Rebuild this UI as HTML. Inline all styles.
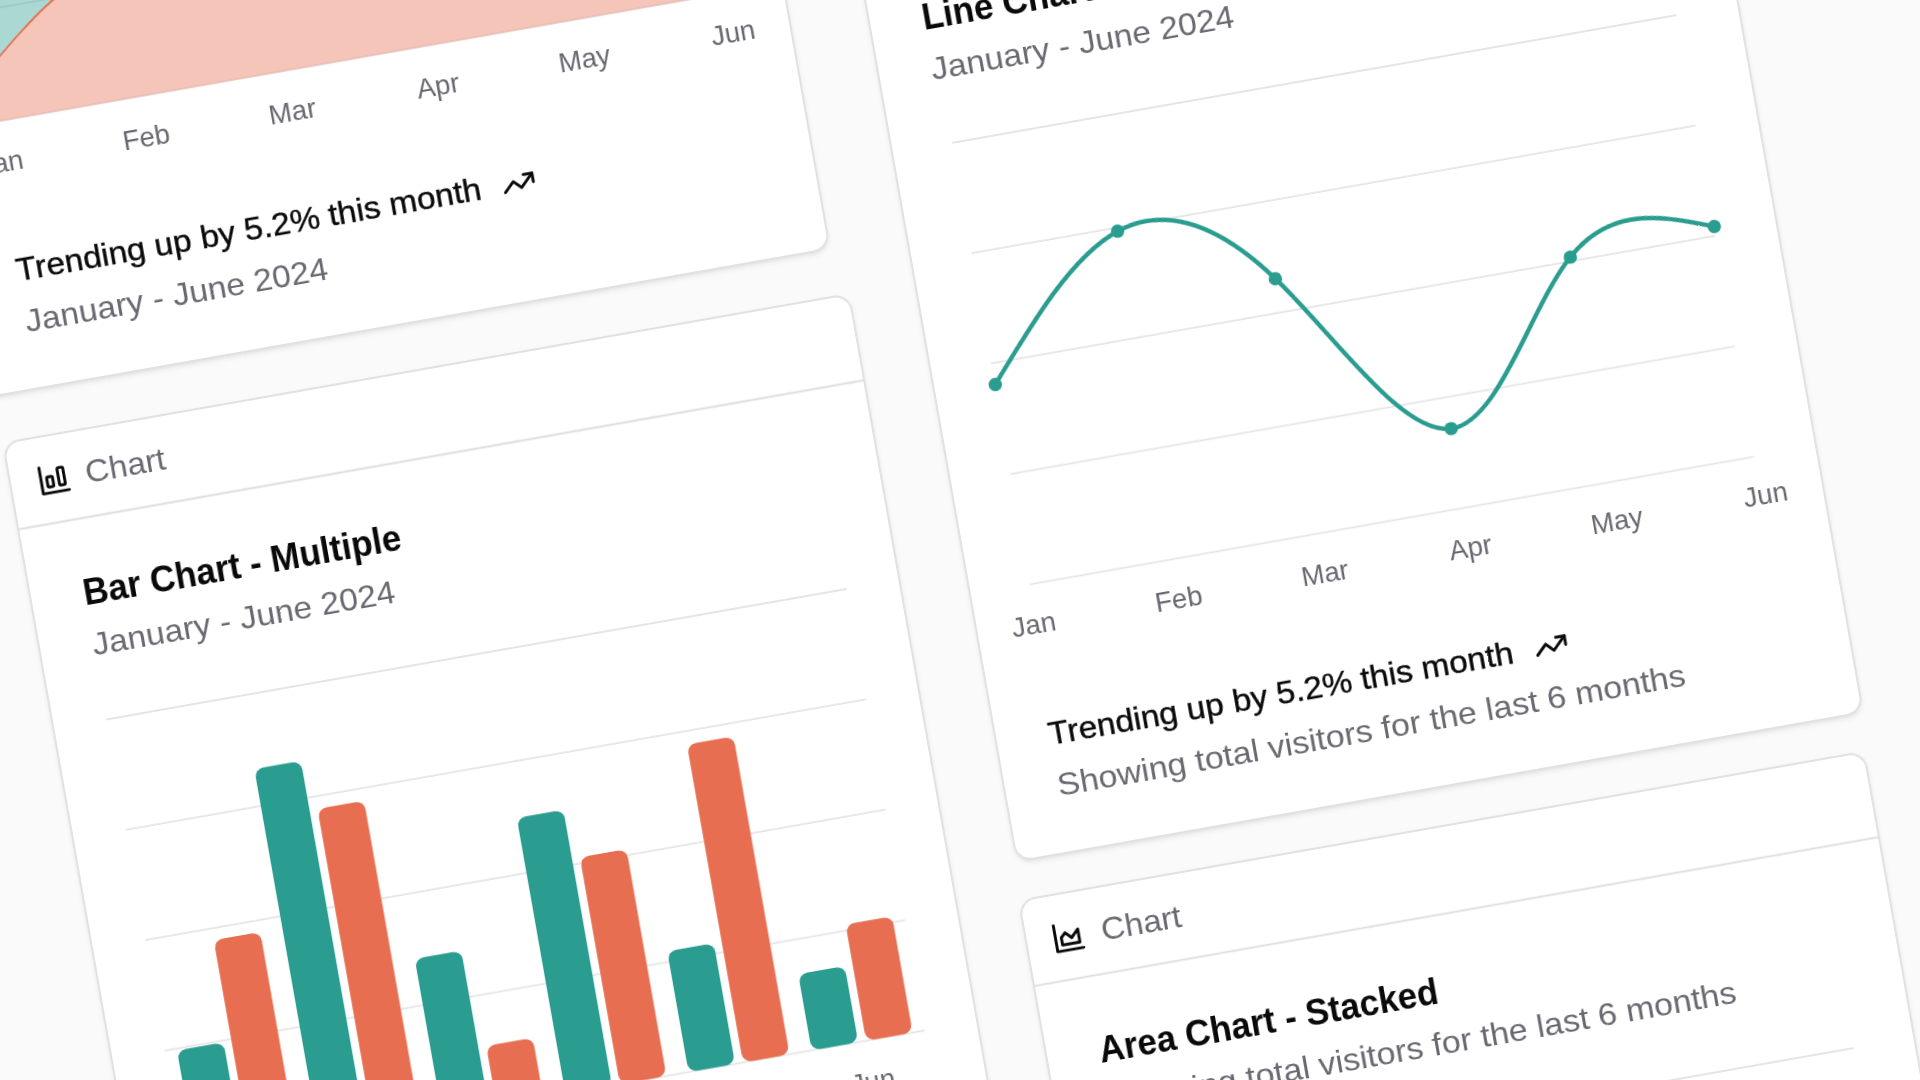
<!DOCTYPE html>
<html lang="en"><head><meta charset="utf-8"><title>Charts</title>
<style>
html,body{margin:0;padding:0}
body{width:1920px;height:1080px;overflow:hidden;background:#fafafa;font-family:"Liberation Sans",sans-serif;position:relative}
#stage{position:absolute;left:0;top:0;width:0;height:0;transform-origin:0 0;transform:rotate(-10deg);will-change:transform}
.card{position:absolute;box-sizing:border-box;width:861.0px;background:#fff;border:2.2px solid #e1e1e4;border-radius:17px;overflow:hidden;
box-shadow:0 2.2px 5.5px rgba(0,0,0,.06),0 2.2px 4px -2.2px rgba(0,0,0,.08)}
.card svg.g{position:absolute;left:-2.2px;top:-2.2px;overflow:visible}
.t{position:absolute;white-space:nowrap;line-height:1;transform-origin:0 50%;font-family:"Liberation Sans",sans-serif}
.lb{width:120px;text-align:center;transform-origin:50% 50%}
</style></head>
<body>
<div id="stage">
<div class="card" style="left:-86.2px;top:-620.2px;width:861px;height:1010.6px"><svg class="g" width="861.0" height="1010.6" viewBox="0 0 861.0 1010.6"><rect x="0" y="87.05" width="861.0" height="1.9" fill="#dededf"/><g transform="translate(1.4,0)"><g transform="translate(26.5,27.3) scale(1.4667)" fill="none" stroke="#0a0a0a" stroke-width="2" stroke-linecap="round" stroke-linejoin="round"><path d="M3 3v18h18"/><path d="M7 12v5h12V8l-5 5-4-4Z"/></g><line x1="61.1" x2="796.6" y1="291" y2="291" stroke="#e5e5e8" stroke-width="1.8"/><line x1="61.1" x2="796.6" y1="403.1" y2="403.1" stroke="#e5e5e8" stroke-width="1.8"/><line x1="61.1" x2="796.6" y1="515.2" y2="515.2" stroke="#e5e5e8" stroke-width="1.8"/><line x1="61.1" x2="796.6" y1="627.3" y2="627.3" stroke="#e5e5e8" stroke-width="1.8"/><line x1="61.1" x2="796.6" y1="739.4" y2="739.4" stroke="#e5e5e8" stroke-width="1.8"/><path d="M61.1,686.6C110.13,645.42,159.17,604.24,208.2,607.4C257.23,610.56,306.27,658.05,355.3,660.2C404.33,662.35,453.37,619.15,502.4,614C551.43,608.85,600.47,641.76,649.5,653.6C698.53,665.44,747.57,656.22,796.6,647L796.6,739.4L61.1,739.4Z" fill="#e76e50" fill-opacity="0.4"/><path d="M61.1,563.84C110.13,488.37,159.17,412.91,208.2,406.1C257.23,399.29,306.27,461.14,355.3,503.78C404.33,546.42,453.37,569.86,502.4,565.82C551.43,561.78,600.47,530.25,649.5,515.66C698.53,501.07,747.57,503.41,796.6,505.76L796.6,647C747.57,656.22,698.53,665.44,649.5,653.6C600.47,641.76,551.43,608.85,502.4,614C453.37,619.15,404.33,662.35,355.3,660.2C306.27,658.05,257.23,610.56,208.2,607.4C159.17,604.24,110.13,645.42,61.1,686.6Z" fill="#2a9d90" fill-opacity="0.4"/><path d="M61.1,686.6C110.13,645.42,159.17,604.24,208.2,607.4C257.23,610.56,306.27,658.05,355.3,660.2C404.33,662.35,453.37,619.15,502.4,614C551.43,608.85,600.47,641.76,649.5,653.6C698.53,665.44,747.57,656.22,796.6,647" fill="none" stroke="#e76e50" stroke-width="1.8"/><path d="M61.1,563.84C110.13,488.37,159.17,412.91,208.2,406.1C257.23,399.29,306.27,461.14,355.3,503.78C404.33,546.42,453.37,569.86,502.4,565.82C551.43,561.78,600.47,530.25,649.5,515.66C698.53,501.07,747.57,503.41,796.6,505.76" fill="none" stroke="#2a9d90" stroke-width="1.8"/><g transform="translate(546.05,872.55) scale(1.4667)" fill="none" stroke="#0a0a0a" stroke-width="2" stroke-linecap="round" stroke-linejoin="round"><polyline points="22 7 13.5 15.5 8.5 10.5 2 17"/><polyline points="16 7 22 7 22 13"/></g></g></svg><div class="t" style="left:75.4px;top:26.23px;font-size:32.2px;color:#696972;font-weight:400;letter-spacing:0px;transform:scaleX(1.03);">Chart</div><div class="t" style="left:52.2px;top:142.62px;font-size:36.8px;color:#0a0a0a;font-weight:700;letter-spacing:0px;transform:scaleX(0.95);">Area Chart - Stacked</div><div class="t" style="left:52.5px;top:196.83px;font-size:32.2px;color:#696972;font-weight:400;letter-spacing:0px;transform:scaleX(1.057);">Showing total visitors for the last 6 months</div><div class="t lb" style="left:-2.9px;top:765.64px;font-size:27.6px;color:#696972">Jan</div><div class="t lb" style="left:144.4px;top:765.37px;font-size:27.6px;color:#696972">Feb</div><div class="t lb" style="left:292.8px;top:765.1px;font-size:27.6px;color:#696972">Mar</div><div class="t lb" style="left:440.6px;top:764.83px;font-size:27.6px;color:#696972">Apr</div><div class="t lb" style="left:589.5px;top:764.56px;font-size:27.6px;color:#696972">May</div><div class="t lb" style="left:740.4px;top:764.29px;font-size:27.6px;color:#696972">Jun</div><div class="t" style="left:52.7px;top:871.43px;font-size:32.2px;color:#0a0a0a;font-weight:400;letter-spacing:0px;transform:scaleX(1.041);-webkit-text-stroke:0.4px #0a0a0a;">Trending up by 5.2% this month</div><div class="t" style="left:52.7px;top:923.53px;font-size:32.2px;color:#696972;font-weight:400;letter-spacing:0px;transform:scaleX(1.046);">January - June 2024</div></div>
<div class="card" style="left:-75.1px;top:436.2px;width:860.7px;height:1010.6px"><svg class="g" width="860.7" height="1010.6" viewBox="0 0 860.7 1010.6"><rect x="0" y="87.55" width="860.7" height="1.9" fill="#dededf"/><g transform="translate(1.1,0)"><g transform="translate(26.5,27.3) scale(1.4667)" fill="none" stroke="#0a0a0a" stroke-width="2" stroke-linecap="round" stroke-linejoin="round"><path d="M3 3v18h18"/><rect width="4" height="7" x="7" y="10" rx="1"/><rect width="4" height="12" x="15" y="5" rx="1"/></g><line x1="53.6" x2="805.5" y1="291" y2="291" stroke="#e5e5e8" stroke-width="1.8"/><line x1="53.6" x2="805.5" y1="403.1" y2="403.1" stroke="#e5e5e8" stroke-width="1.8"/><line x1="53.6" x2="805.5" y1="515.2" y2="515.2" stroke="#e5e5e8" stroke-width="1.8"/><line x1="53.6" x2="805.5" y1="627.3" y2="627.3" stroke="#e5e5e8" stroke-width="1.8"/><line x1="53.6" x2="805.5" y1="739.4" y2="739.4" stroke="#e5e5e8" stroke-width="1.8"/><rect x="65.8" y="629.2" width="47.3" height="110.2" rx="8.8" fill="#2a9d90"/><rect x="121.1" y="526.9" width="47.3" height="212.5" rx="8.8" fill="#e76e50"/><rect x="190.8" y="365.6" width="47.3" height="373.8" rx="8.8" fill="#2a9d90"/><rect x="246.1" y="415.7" width="47.3" height="323.7" rx="8.8" fill="#e76e50"/><rect x="315.8" y="580.3" width="47.3" height="159.1" rx="8.8" fill="#2a9d90"/><rect x="371.1" y="678.5" width="47.3" height="60.9" rx="8.8" fill="#e76e50"/><rect x="440.8" y="459.3" width="47.3" height="280.1" rx="8.8" fill="#2a9d90"/><rect x="496.1" y="508.9" width="47.3" height="230.5" rx="8.8" fill="#e76e50"/><rect x="565.8" y="616.7" width="47.3" height="122.7" rx="8.8" fill="#2a9d90"/><rect x="621.1" y="416.5" width="47.3" height="322.9" rx="8.8" fill="#e76e50"/><rect x="690.8" y="661.9" width="47.3" height="77.5" rx="8.8" fill="#2a9d90"/><rect x="746.1" y="621.3" width="47.3" height="118.1" rx="8.8" fill="#e76e50"/><g transform="translate(546.05,872.45) scale(1.4667)" fill="none" stroke="#0a0a0a" stroke-width="2" stroke-linecap="round" stroke-linejoin="round"><polyline points="22 7 13.5 15.5 8.5 10.5 2 17"/><polyline points="16 7 22 7 22 13"/></g></g></svg><div class="t" style="left:75.1px;top:26.23px;font-size:32.2px;color:#696972;font-weight:400;letter-spacing:0px;transform:scaleX(1.03);">Chart</div><div class="t" style="left:51.9px;top:142.62px;font-size:36.8px;color:#0a0a0a;font-weight:700;letter-spacing:0px;transform:scaleX(0.95);">Bar Chart - Multiple</div><div class="t" style="left:52.2px;top:196.83px;font-size:32.2px;color:#696972;font-weight:400;letter-spacing:0px;transform:scaleX(1.046);">January - June 2024</div><div class="t lb" style="left:58.6px;top:764.74px;font-size:27.6px;color:#696972">Jan</div><div class="t lb" style="left:183.9px;top:764.74px;font-size:27.6px;color:#696972">Feb</div><div class="t lb" style="left:309.2px;top:764.74px;font-size:27.6px;color:#696972">Mar</div><div class="t lb" style="left:434.5px;top:764.74px;font-size:27.6px;color:#696972">Apr</div><div class="t lb" style="left:559.8px;top:764.74px;font-size:27.6px;color:#696972">May</div><div class="t lb" style="left:685.1px;top:764.74px;font-size:27.6px;color:#696972">Jun</div><div class="t" style="left:52.4px;top:871.33px;font-size:32.2px;color:#0a0a0a;font-weight:400;letter-spacing:0px;transform:scaleX(1.041);-webkit-text-stroke:0.4px #0a0a0a;">Trending up by 5.2% this month</div><div class="t" style="left:52.4px;top:923.43px;font-size:32.2px;color:#696972;font-weight:400;letter-spacing:0px;transform:scaleX(1.057);">Showing total visitors for the last 6 months</div></div>
<div class="card" style="left:851.1px;top:15.4px;width:861px;height:1010.6px"><svg class="g" width="861.0" height="1010.6" viewBox="0 0 861.0 1010.6"><rect x="0" y="87.05" width="861.0" height="1.9" fill="#dededf"/><g transform="translate(0.7,0)"><g transform="translate(26.5,27.3) scale(1.4667)" fill="none" stroke="#0a0a0a" stroke-width="2" stroke-linecap="round" stroke-linejoin="round"><path d="M3 3v18h18"/><path d="m19 9-5 5-4-4-3 3"/></g><line x1="61.1" x2="796.6" y1="291" y2="291" stroke="#e5e5e8" stroke-width="1.8"/><line x1="61.1" x2="796.6" y1="403.1" y2="403.1" stroke="#e5e5e8" stroke-width="1.8"/><line x1="61.1" x2="796.6" y1="515.2" y2="515.2" stroke="#e5e5e8" stroke-width="1.8"/><line x1="61.1" x2="796.6" y1="627.3" y2="627.3" stroke="#e5e5e8" stroke-width="1.8"/><line x1="61.1" x2="796.6" y1="739.4" y2="739.4" stroke="#e5e5e8" stroke-width="1.8"/><path d="M61.7,536.5C110.73,479.87,159.77,423.23,208.8,406.8C257.83,390.37,306.87,414.14,355.9,480.9C404.93,547.66,453.97,657.4,503,659.1C552.03,660.8,601.07,554.46,650.1,510.9C699.13,467.34,748.17,486.57,797.2,505.8" fill="none" stroke="#2a9d90" stroke-width="4.4" stroke-linecap="round"/><circle cx="61.7" cy="536.5" r="6.7" fill="#2a9d90"/><circle cx="208.8" cy="406.8" r="6.7" fill="#2a9d90"/><circle cx="355.9" cy="480.9" r="6.7" fill="#2a9d90"/><circle cx="503" cy="659.1" r="6.7" fill="#2a9d90"/><circle cx="650.1" cy="510.9" r="6.7" fill="#2a9d90"/><circle cx="797.2" cy="505.8" r="6.7" fill="#2a9d90"/><g transform="translate(546.05,872.45) scale(1.4667)" fill="none" stroke="#0a0a0a" stroke-width="2" stroke-linecap="round" stroke-linejoin="round"><polyline points="22 7 13.5 15.5 8.5 10.5 2 17"/><polyline points="16 7 22 7 22 13"/></g></g></svg><div class="t" style="left:74.7px;top:26.23px;font-size:32.2px;color:#696972;font-weight:400;letter-spacing:0px;transform:scaleX(1.03);">Chart</div><div class="t" style="left:51.5px;top:142.62px;font-size:36.8px;color:#0a0a0a;font-weight:700;letter-spacing:0px;transform:scaleX(0.95);">Line Chart - Dots</div><div class="t" style="left:51.8px;top:196.83px;font-size:32.2px;color:#696972;font-weight:400;letter-spacing:0px;transform:scaleX(1.046);">January - June 2024</div><div class="t lb" style="left:-3.6px;top:764.04px;font-size:27.6px;color:#696972">Jan</div><div class="t lb" style="left:143.7px;top:763.77px;font-size:27.6px;color:#696972">Feb</div><div class="t lb" style="left:292.1px;top:763.5px;font-size:27.6px;color:#696972">Mar</div><div class="t lb" style="left:439.9px;top:763.23px;font-size:27.6px;color:#696972">Apr</div><div class="t lb" style="left:588.8px;top:762.96px;font-size:27.6px;color:#696972">May</div><div class="t lb" style="left:739.7px;top:762.69px;font-size:27.6px;color:#696972">Jun</div><div class="t" style="left:52px;top:871.33px;font-size:32.2px;color:#0a0a0a;font-weight:400;letter-spacing:0px;transform:scaleX(1.041);-webkit-text-stroke:0.4px #0a0a0a;">Trending up by 5.2% this month</div><div class="t" style="left:52px;top:923.43px;font-size:32.2px;color:#696972;font-weight:400;letter-spacing:0px;transform:scaleX(1.057);">Showing total visitors for the last 6 months</div></div>
<div class="card" style="left:845.7px;top:1063px;width:859.9px;height:1010.6px"><svg class="g" width="859.9" height="1010.6" viewBox="0 0 859.9 1010.6"><rect x="0" y="86.65" width="859.9" height="1.9" fill="#dededf"/><g transform="translate(1.1,0)"><g transform="translate(25,27.3) scale(1.4667)" fill="none" stroke="#0a0a0a" stroke-width="2" stroke-linecap="round" stroke-linejoin="round"><path d="M3 3v18h18"/><path d="M7 12v5h12V8l-5 5-4-4Z"/></g><line x1="61.1" x2="796.6" y1="291" y2="291" stroke="#e5e5e8" stroke-width="1.8"/><line x1="61.1" x2="796.6" y1="403.1" y2="403.1" stroke="#e5e5e8" stroke-width="1.8"/><line x1="61.1" x2="796.6" y1="515.2" y2="515.2" stroke="#e5e5e8" stroke-width="1.8"/><line x1="61.1" x2="796.6" y1="627.3" y2="627.3" stroke="#e5e5e8" stroke-width="1.8"/><line x1="61.1" x2="796.6" y1="739.4" y2="739.4" stroke="#e5e5e8" stroke-width="1.8"/><path d="M61.1,686.6C110.13,645.42,159.17,604.24,208.2,607.4C257.23,610.56,306.27,658.05,355.3,660.2C404.33,662.35,453.37,619.15,502.4,614C551.43,608.85,600.47,641.76,649.5,653.6C698.53,665.44,747.57,656.22,796.6,647L796.6,739.4L61.1,739.4Z" fill="#e76e50" fill-opacity="0.4"/><path d="M61.1,563.84C110.13,488.37,159.17,412.91,208.2,406.1C257.23,399.29,306.27,461.14,355.3,503.78C404.33,546.42,453.37,569.86,502.4,565.82C551.43,561.78,600.47,530.25,649.5,515.66C698.53,501.07,747.57,503.41,796.6,505.76L796.6,647C747.57,656.22,698.53,665.44,649.5,653.6C600.47,641.76,551.43,608.85,502.4,614C453.37,619.15,404.33,662.35,355.3,660.2C306.27,658.05,257.23,610.56,208.2,607.4C159.17,604.24,110.13,645.42,61.1,686.6Z" fill="#2a9d90" fill-opacity="0.4"/><path d="M61.1,686.6C110.13,645.42,159.17,604.24,208.2,607.4C257.23,610.56,306.27,658.05,355.3,660.2C404.33,662.35,453.37,619.15,502.4,614C551.43,608.85,600.47,641.76,649.5,653.6C698.53,665.44,747.57,656.22,796.6,647" fill="none" stroke="#e76e50" stroke-width="1.8"/><path d="M61.1,563.84C110.13,488.37,159.17,412.91,208.2,406.1C257.23,399.29,306.27,461.14,355.3,503.78C404.33,546.42,453.37,569.86,502.4,565.82C551.43,561.78,600.47,530.25,649.5,515.66C698.53,501.07,747.57,503.41,796.6,505.76" fill="none" stroke="#2a9d90" stroke-width="1.8"/><g transform="translate(546.05,872.45) scale(1.4667)" fill="none" stroke="#0a0a0a" stroke-width="2" stroke-linecap="round" stroke-linejoin="round"><polyline points="22 7 13.5 15.5 8.5 10.5 2 17"/><polyline points="16 7 22 7 22 13"/></g></g></svg><div class="t" style="left:75.1px;top:26.23px;font-size:32.2px;color:#696972;font-weight:400;letter-spacing:0px;transform:scaleX(1.03);">Chart</div><div class="t" style="left:51.9px;top:142.62px;font-size:36.8px;color:#0a0a0a;font-weight:700;letter-spacing:0px;transform:scaleX(0.95);">Area Chart - Stacked</div><div class="t" style="left:52.2px;top:196.83px;font-size:32.2px;color:#696972;font-weight:400;letter-spacing:0px;transform:scaleX(1.057);">Showing total visitors for the last 6 months</div><div class="t lb" style="left:-3.2px;top:763.24px;font-size:27.6px;color:#696972">Jan</div><div class="t lb" style="left:144.1px;top:762.97px;font-size:27.6px;color:#696972">Feb</div><div class="t lb" style="left:292.5px;top:762.7px;font-size:27.6px;color:#696972">Mar</div><div class="t lb" style="left:440.3px;top:762.43px;font-size:27.6px;color:#696972">Apr</div><div class="t lb" style="left:589.2px;top:762.16px;font-size:27.6px;color:#696972">May</div><div class="t lb" style="left:740.1px;top:761.89px;font-size:27.6px;color:#696972">Jun</div><div class="t" style="left:52.4px;top:871.33px;font-size:32.2px;color:#0a0a0a;font-weight:400;letter-spacing:0px;transform:scaleX(1.041);-webkit-text-stroke:0.4px #0a0a0a;">Trending up by 5.2% this month</div><div class="t" style="left:52.4px;top:923.43px;font-size:32.2px;color:#696972;font-weight:400;letter-spacing:0px;transform:scaleX(1.046);">January - June 2024</div></div>
</div>
</body></html>
